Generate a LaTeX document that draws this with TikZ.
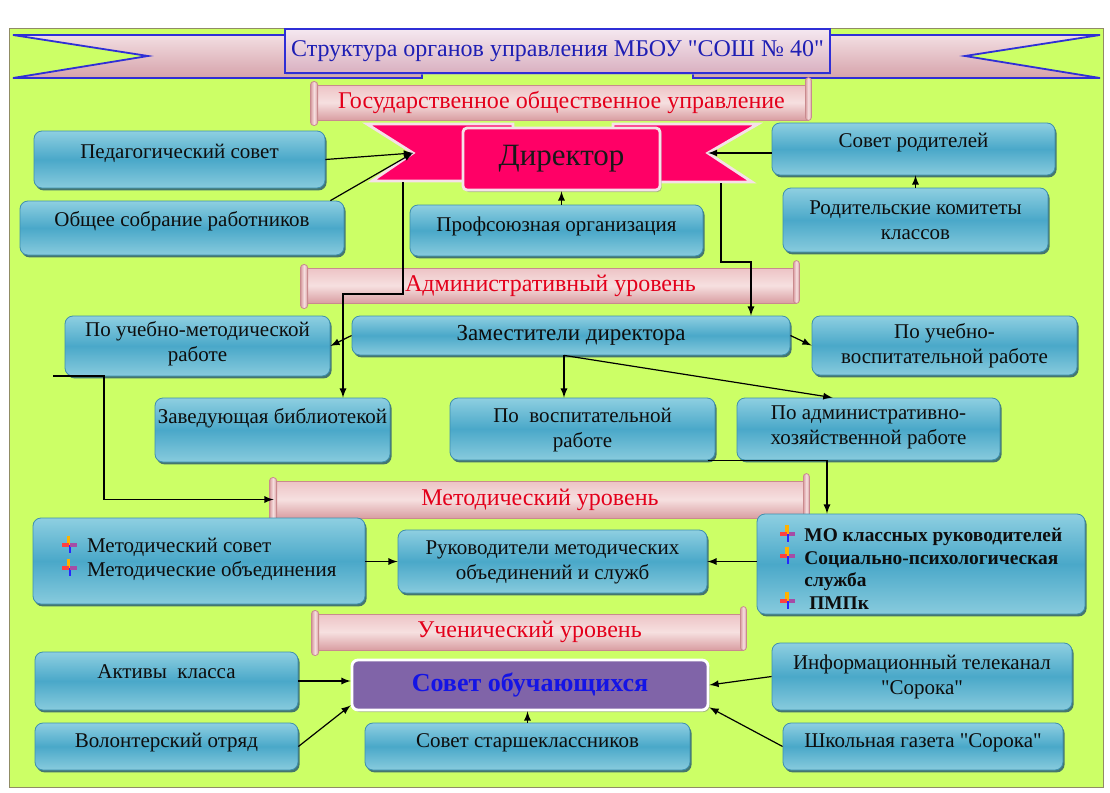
\documentclass[tikz,border=0pt]{standalone}
\usepackage{fontspec}
\setmainfont{Liberation Serif}
\newfontfamily\blokfont{Liberation Serif}
\usepackage{xcolor}
\usepackage{tikz}
\usetikzlibrary{shapes,arrows,shadows}
\definecolor{fon}{rgb}{0.8, 1, 0.4}
\definecolor{bloktop}{rgb}{0.557, 0.812, 0.882}
\definecolor{blokmid}{rgb}{0.29, 0.659, 0.788}
\definecolor{blokbot}{rgb}{0.533, 0.796, 0.867}
\definecolor{blokedge}{rgb}{0.243, 0.561, 0.682}
\definecolor{blokshadow}{rgb}{0.18, 0.373, 0.439}
\definecolor{blokink}{rgb}{0.05, 0.05, 0.05}
\definecolor{dirpink}{rgb}{1, 0, 0.4}
\definecolor{diredge}{rgb}{0.961, 0.882, 0.91}
\definecolor{obpurple}{rgb}{0.502, 0.392, 0.659}
\definecolor{obink}{rgb}{0.08, 0.08, 0.9}
\definecolor{scrtop}{rgb}{0.929, 0.765, 0.773}
\definecolor{scrmid}{rgb}{0.965, 0.878, 0.878}
\definecolor{scrbot}{rgb}{0.851, 0.62, 0.635}
\definecolor{scredge}{rgb}{0.788, 0.541, 0.557}
\definecolor{scrink}{rgb}{0.89, 0, 0.106}
\definecolor{ribtop}{rgb}{0.949, 0.871, 0.886}
\definecolor{ribbot}{rgb}{0.839, 0.635, 0.667}
\definecolor{ribedge}{rgb}{0.184, 0.184, 0.839}
\definecolor{ttltop}{rgb}{0.961, 0.91, 0.941}
\definecolor{ttlbot}{rgb}{0.851, 0.69, 0.753}
\definecolor{ttlink}{rgb}{0.122, 0.122, 0.706}
\tikzstyle{blok}=[rectangle, draw=blokedge, line width=0.4pt, rounded corners=4pt, top color=bloktop, bottom color=blokbot, middle color=blokmid, drop shadow={shadow xshift=0.8pt, shadow yshift=-1.2pt, fill=blokshadow, opacity=0.85}, inner sep=0pt]
\tikzstyle{bloktext}=[align=center, inner sep=0pt, text=blokink, font=\blokfont\fontsize{10.5}{12.5}\selectfont]
\tikzstyle{scr}=[rectangle, draw=scredge, line width=0.4pt, top color=scrtop, bottom color=scrbot, middle color=scrmid, inner sep=0pt, text=scrink, font=\blokfont\fontsize{12}{14}\selectfont]
\tikzstyle{roll}=[draw=scredge, line width=0.4pt, left color=scrbot, right color=scrbot, middle color=scrmid, rounded corners=1.5pt]
\tikzstyle{rib}=[draw=ribedge, line width=0.9pt, top color=ribtop, bottom color=ribbot, line join=miter]
\tikzstyle{ttlbox}=[rectangle, draw=ribedge, line width=0.9pt, top color=ttltop, bottom color=ttlbot, drop shadow={shadow xshift=0.6pt, shadow yshift=-0.8pt, fill=black!35, opacity=0.5}, inner sep=0pt, text=ttlink, font=\blokfont\fontsize{12}{15}\selectfont]
\tikzstyle{dirtail}=[fill=dirpink, draw=diredge, line width=1.4pt, line join=miter]
\tikzstyle{dirbox}=[rectangle, fill=dirpink, draw=diredge, line width=1.4pt, rounded corners=2pt, drop shadow={shadow xshift=0.8pt, shadow yshift=-1pt, fill=black!45, opacity=0.6}, inner sep=0pt, text=black!90, font=\blokfont\fontsize{15.5}{18}\selectfont]
\tikzstyle{obbox}=[rectangle, fill=obpurple, draw=white, line width=1.4pt, rounded corners=3pt, drop shadow={shadow xshift=0.8pt, shadow yshift=-1pt, fill=black!45, opacity=0.6}, inner sep=0pt, text=obink, font=\bfseries\fontsize{13}{16}\selectfont]
\tikzstyle{arr}=[-latex, line width=0.6pt]
\newcommand{\blok}[8][]{
  \node[blok, minimum width={(#5-#3)*0.5pt}, minimum height={(#6-#4)*0.5pt}] (#2) at ({(#3+#5)/2}, {(#4+#6)/2}) {};
  \node[bloktext, #1] (#2t) at ({(#3+#5)/2}, #7) {#8};
}
\newcommand{\svitok}[7][]{
  \node[scr, #1, minimum width={(#5-#3)*0.5pt}, minimum height={(#6-#4)*0.5pt}] (#2) at ({(#3+#5)/2}, {(#4+#6)/2}) {#7};
  \shadedraw[roll] ([xshift=-2pt, yshift=1.5pt]#2.north west) rectangle ([xshift=1.5pt, yshift=-2.5pt]#2.south west);
  \shadedraw[roll] ([xshift=-1.5pt, yshift=3.5pt]#2.north east) rectangle ([xshift=1.5pt]#2.south east);
}
\newcommand{\punkt}{\tikz[x=1pt, y=1pt, baseline=0pt]{
  \fill[orange!60!yellow] (2.6,4) rectangle (4.4,8.5);
  \fill[red!75] (0,3.2) rectangle (3.5,5);
  \fill[blue!85] (3.5,0) rectangle (4.6,4);
  \fill[violet!70] (4.4,3.2) rectangle (7.5,5);}}

\begin{document}
\begin{tikzpicture}[x=0.5pt, y=-0.5pt]
\useasboundingbox (0,0) rectangle (1110,793);
\fill[white] (0,0) rectangle (1110,793);
\filldraw[fill=fon, draw=gray!70!olive] (9,28) rectangle (1103,787);
% title ribbon
\shadedraw[rib] (13,35) -- (286,35) -- (286,73) -- (422,73) -- (422,78) -- (13,78) -- (148,56) -- cycle;
\shadedraw[rib] (1100,35) -- (829,35) -- (829,73) -- (693,73) -- (693,78) -- (1100,78) -- (965,56) -- cycle;
\node[ttlbox, minimum width=272.5pt, minimum height=22pt] (titul) at (557.5,51) {Структура органов управления МБОУ "СОШ № 40"};
\svitok{gos}{315}{85}{808}{120}{Государственное общественное управление}
% director
\filldraw[dirtail] (367,124) -- (513,124) -- (513,181) -- (372,181) -- (413,153) -- cycle;
\filldraw[dirtail] (758,124) -- (613,124) -- (613,182) -- (752,182) -- (708,153) -- cycle;
\node[dirbox, minimum width=98.5pt, minimum height=31pt] (dir) at (561.5,159) {Директор};
\coordinate (dirL) at (413,153);
\coordinate (dirR) at (708,153);
\coordinate (dirLb) at (403,182);
\coordinate (dirRb) at (721,183);
\blok{ped}{34}{131}{325}{188}{153}{Педагогический совет}
\blok{obsh}{20}{201}{344}{255}{221}{Общее собрание работников}
\blok{prof}{410}{205}{703}{256}{226}{Профсоюзная организация}
\blok{sovrod}{772}{123}{1055}{175}{143}{Совет родителей}
\blok{rodkom}{783}{188}{1048}{252}{220}{Родительские комитеты\\классов}
% administrative level
\svitok{adm}{305}{268}{796}{303}{Административный уровень}
\blok[font=\blokfont\fontsize{11.5}{14}\selectfont]{zam}{352}{316}{790}{355}{335}{Заместители директора}
\blok{pum}{65}{316}{330}{376}{344}{По учебно-методической\\работе}
\blok{puv}{812}{316}{1077}{375}{346}{По учебно-\\воспитательной работе}
\blok{bib}{155}{398}{390}{462}{418}{Заведующая библиотекой}
\blok{pv}{450}{398}{715}{460}{430}{По~~воспитательной\\работе}
\blok{pah}{737}{398}{1000}{460}{427}{По административно-\\хозяйственной работе}
% methodical level
\svitok{met}{274}{481}{806}{518}{Методический уровень}
\blok[align=left, font=\blokfont\fontsize{10.5}{10.5}\selectfont]{metL}{33}{518}{365}{604}{558}{\punkt\ \ Методический совет\\\punkt\ \ Методические объединения}
\blok{ruk}{398}{530}{707}{593}{562}{Руководители методических\\объединений и служб}
\blok[align=left, font=\bfseries\fontsize{9.7}{11.2}\selectfont]{metR}{757}{514}{1085}{614}{567}{\punkt\ \ МО классных руководителей\\\punkt\ \ Социально-психологическая\\\phantom{\punkt\ \ }служба\\\punkt\ \ \ ПМПк}
% pupils level
\svitok{uch}{316}{614}{743}{650}{Ученический уровень}
\node[obbox, minimum width=178pt, minimum height=25pt] (sovob) at (530,685) {Совет обучающихся};
\blok{akt}{35}{652}{298}{710}{672}{Активы~~класса}
\blok{vol}{35}{723}{298}{770}{743}{Волонтерский отряд}
\blok{ss}{365}{723}{690}{770}{743}{Совет старшеклассников}
\blok{info}{772}{643}{1072}{710}{677}{Информационный телеканал\\"Сорока"}
\blok{gaz}{783}{723}{1063}{770}{743}{Школьная газета "Сорока"}
% connectors
\draw[arr] (ped.east) -- (dirL);
\draw[arr] ([xshift=-7pt]obsh.north east) -- (dirL);
\draw[arr] (sovrod.west |- dirR) -- (dirR);
\draw[arr] (rodkom.north) -- (rodkom.north |- sovrod.south);
\draw[arr] (prof.north -| dir.south) -- (dir.south);
\draw[arr] (dirLb) |- (343,294) -- (343,0 |- bib.north);
\draw[arr] (dirRb) |- (751,262) -- (751,0 |- zam.north);
\draw[arr] (zam.west) -- (pum.east);
\draw[arr] (zam.east) -- (puv.west);
\draw[arr] ([xshift=-3.5pt]zam.south) -- ([xshift=-3.5pt]zam.south |- pv.north);
\draw[arr] ([xshift=-3.5pt]zam.south) -- ([xshift=-18pt]pah.north);
\coordinate (lft) at (53,376);
\draw[arr] (lft) -- (104,376) |- (met.west);
\draw[arr] ([xshift=-3.5pt]pv.south east) -| ([xshift=-47pt]metR.north);
\draw[arr] (metR.west |- ruk.east) -- (ruk.east);
\draw[arr] (metL.east |- ruk.west) -- (ruk.west);
\draw[arr] (akt.east) -- (akt.east -| sovob.west);
\draw[arr] (vol.east) -- ([yshift=3pt]sovob.south west);
\draw[arr] (ss.north) -- (ss.north |- sovob.south);
\draw[arr] (info.west) -- (sovob.east);
\draw[arr] (gaz.west) -- ([yshift=2pt]sovob.south east);
\end{tikzpicture}
\end{document}
